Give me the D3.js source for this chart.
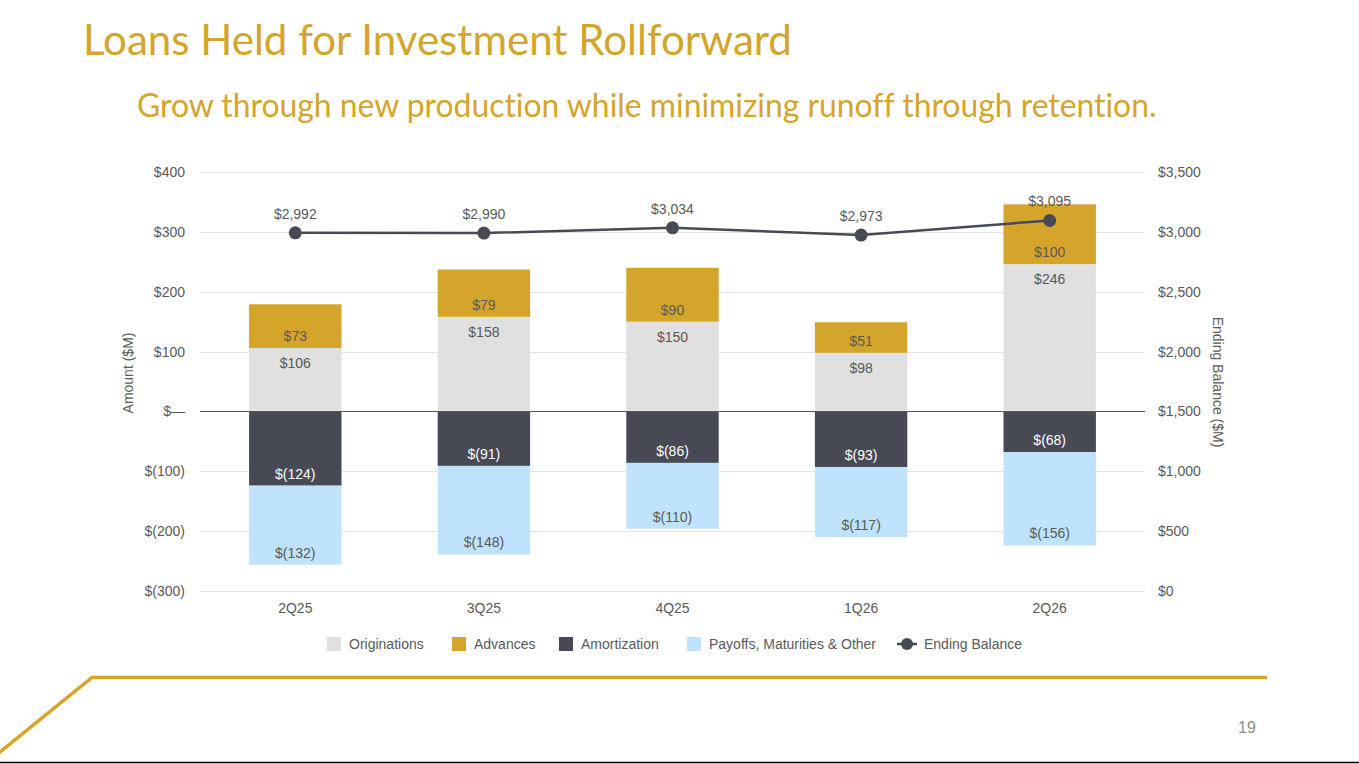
<!DOCTYPE html>
<html>
<head>
<meta charset="utf-8">
<script src="https://cdn.jsdelivr.net/npm/d3@7"></script>
<style>
  html, body { margin: 0; padding: 0; background: #fff; }
  svg { display: block; }
  text { font-variant-ligatures: none; }
</style>
</head>
<body>
<svg id="chart" width="1359" height="764"></svg>
<script>
// ---- Data ----
const quarters = ["2Q25", "3Q25", "4Q25", "1Q26", "2Q26"];
const originations = [106, 158, 150, 98, 246];
const advances = [73, 79, 90, 51, 100];
const amortization = [-124, -91, -86, -93, -68];
const payoffs = [-132, -148, -110, -117, -156];
const endingBalance = [2992, 2990, 3034, 2973, 3095];
const leftTicks = [-300, -200, -100, 0, 100, 200, 300, 400];
const rightTicks = [0, 500, 1000, 1500, 2000, 2500, 3000, 3500];
const legendNames = ["Originations", "Advances", "Amortization", "Payoffs, Maturities & Other", "Ending Balance"];

// ---- Styles ----
const C = {
  orig: "#E0E0E0", adv: "#D4A52A", amort: "#474A54", pay: "#BFE3FC",
  line: "#474A54", text: "#595959", grid: "#E3E3E3", gold: "#D4A52A"
};
const FONT = "'Liberation Sans', Arial, sans-serif";

const svg = d3.select("#chart");

// Title & subtitle
function fitText(sel, width) {
  const w = sel.node().getComputedTextLength();
  const fs = parseFloat(sel.attr("font-size"));
  sel.attr("font-size", fs * width / w);
}
const title = svg.append("text").attr("x", 83).attr("y", 55)
  .attr("font-family", "Lato, 'Open Sans', sans-serif").attr("font-size", 38)
  .attr("fill", C.gold).text("Loans Held for Investment Rollforward");
fitText(title, 709);
const sub = svg.append("text").attr("x", 137).attr("y", 117)
  .attr("font-family", "Lato, 'Open Sans', sans-serif").attr("font-size", 28)
  .attr("fill", C.gold).text("Grow through new production while minimizing runoff through retention.");
fitText(sub, 1020);

// Scales
const x = d3.scaleBand().domain(quarters).range([201, 1144]).paddingInner(0.51).paddingOuter(0.255);
const yL = d3.scaleLinear().domain([-300, 400]).range([591, 172]);
const yR = d3.scaleLinear().domain([0, 3500]).range([591, 172]);
const gx0 = 200, gx1 = 1145;

// Gridlines
svg.append("g").selectAll("line").data(leftTicks.filter(d => d !== 0)).join("line")
  .attr("x1", gx0).attr("x2", gx1)
  .attr("y1", d => Math.round(yL(d)) + 0.5).attr("y2", d => Math.round(yL(d)) + 0.5)
  .attr("stroke", C.grid).attr("stroke-width", 1);

// Left axis
const fmtL = d => d === 0 ? "$\u2014" : (d < 0 ? `$(${-d})` : `$${d}`);
const axL = svg.append("g").attr("transform", `translate(185,0)`)
  .call(d3.axisLeft(yL).tickValues(leftTicks).tickFormat(fmtL).tickSize(0).tickPadding(0));
axL.select(".domain").remove();
axL.selectAll("text").attr("font-family", FONT).attr("font-size", 14).attr("fill", C.text);

// Right axis
const fmtR = d => "$" + d3.format(",")(d);
const axR = svg.append("g").attr("transform", `translate(1158,0)`)
  .call(d3.axisRight(yR).tickValues(rightTicks).tickFormat(fmtR).tickSize(0).tickPadding(0));
axR.select(".domain").remove();
axR.selectAll("text").attr("font-family", FONT).attr("font-size", 14).attr("fill", C.text);

// Axis titles
svg.append("text").attr("transform", "translate(133,373) rotate(-90)")
  .attr("text-anchor", "middle").attr("font-family", FONT).attr("font-size", 14)
  .attr("fill", C.text).text("Amount ($M)");
svg.append("text").attr("transform", "translate(1213,382) rotate(90)")
  .attr("text-anchor", "middle").attr("font-family", FONT).attr("font-size", 14)
  .attr("fill", C.text).text("Ending Balance ($M)");

// Bars
const rows = quarters.map((q, i) => ({
  q, orig: originations[i], adv: advances[i], amort: amortization[i], pay: payoffs[i], bal: endingBalance[i]
}));
const segs = [];
rows.forEach(r => {
  segs.push({ q: r.q, k: "orig", y0: 0, y1: r.orig, v: r.orig, fill: C.orig });
  segs.push({ q: r.q, k: "adv", y0: r.orig, y1: r.orig + r.adv, v: r.adv, fill: C.adv });
  segs.push({ q: r.q, k: "amort", y0: 0, y1: r.amort, v: r.amort, fill: C.amort });
  segs.push({ q: r.q, k: "pay", y0: r.amort, y1: r.amort + r.pay, v: r.pay, fill: C.pay });
});
svg.append("g").selectAll("rect").data(segs).join("rect")
  .attr("x", d => x(d.q)).attr("width", x.bandwidth())
  .attr("y", d => yL(Math.max(d.y0, d.y1)))
  .attr("height", d => Math.abs(yL(d.y0) - yL(d.y1)))
  .attr("fill", d => d.fill);

// Zero line
svg.append("line").attr("x1", gx0).attr("x2", gx1)
  .attr("y1", Math.round(yL(0)) + 0.5).attr("y2", Math.round(yL(0)) + 0.5)
  .attr("stroke", "#595959").attr("stroke-width", 1);

// Bar labels
const fmtV = v => v < 0 ? `$(${-v})` : `$${v}`;
svg.append("g").selectAll("text").data(segs).join("text")
  .attr("x", d => x(d.q) + x.bandwidth() / 2)
  .attr("y", d => {
    if (d.k === "orig") return yL(d.y1) + 15;
    return yL(Math.min(d.y0, d.y1)) - 12;
  })
  .attr("dy", "0.35em")
  .attr("text-anchor", "middle").attr("font-family", FONT).attr("font-size", 14)
  .attr("fill", d => d.k === "amort" ? "#FFFFFF" : C.text)
  .text(d => fmtV(d.v));

// Line
const cx = q => x(q) + x.bandwidth() / 2;
svg.append("path").datum(rows)
  .attr("d", d3.line().x(d => cx(d.q)).y(d => yR(d.bal)))
  .attr("fill", "none").attr("stroke", C.line).attr("stroke-width", 2.5);
svg.append("g").selectAll("circle").data(rows).join("circle")
  .attr("cx", d => cx(d.q)).attr("cy", d => yR(d.bal)).attr("r", 6.5).attr("fill", C.line);
svg.append("g").selectAll("text").data(rows).join("text")
  .attr("x", d => cx(d.q)).attr("y", d => yR(d.bal) - 19).attr("dy", "0.35em")
  .attr("text-anchor", "middle").attr("font-family", FONT).attr("font-size", 14)
  .attr("fill", C.text).text(d => "$" + d3.format(",")(d.bal));

// X axis labels
const axX = svg.append("g").attr("transform", `translate(0,603)`)
  .call(d3.axisBottom(x).tickSize(0).tickPadding(0));
axX.select(".domain").remove();
axX.selectAll("text").attr("font-family", FONT).attr("font-size", 14).attr("fill", C.text);

// Legend
const legendX = [327, 452, 559, 687, 897];
const legendFill = [C.orig, C.adv, C.amort, C.pay, C.line];
const lg = svg.append("g");
legendNames.forEach((name, i) => {
  if (i < 4) {
    lg.append("rect").attr("x", legendX[i]).attr("y", 637).attr("width", 14).attr("height", 14).attr("fill", legendFill[i]);
    lg.append("text").attr("x", legendX[i] + 22).attr("y", 644).attr("dy", "0.35em")
      .attr("font-family", FONT).attr("font-size", 14).attr("fill", C.text).text(name);
  } else {
    lg.append("line").attr("x1", legendX[i]).attr("x2", legendX[i] + 20).attr("y1", 644).attr("y2", 644)
      .attr("stroke", C.line).attr("stroke-width", 2.5);
    lg.append("circle").attr("cx", legendX[i] + 10).attr("cy", 644).attr("r", 6).attr("fill", C.line);
    lg.append("text").attr("x", legendX[i] + 27).attr("y", 644).attr("dy", "0.35em")
      .attr("font-family", FONT).attr("font-size", 14).attr("fill", C.text).text(name);
  }
});

// Decorations
svg.append("path").attr("d", "M-2,753.5 L92,677.5 L1267,677.5")
  .attr("fill", "none").attr("stroke", C.gold).attr("stroke-width", 3.5);
svg.append("line").attr("x1", 0).attr("x2", 1359).attr("y1", 762.5).attr("y2", 762.5)
  .attr("stroke", "#000").attr("stroke-width", 1.5);
svg.append("text").attr("x", 1247).attr("y", 727).attr("dy", "0.35em").attr("text-anchor", "middle")
  .attr("font-family", FONT).attr("font-size", 16).attr("fill", "#8C8C8C").text("19");
</script>
</body>
</html>
